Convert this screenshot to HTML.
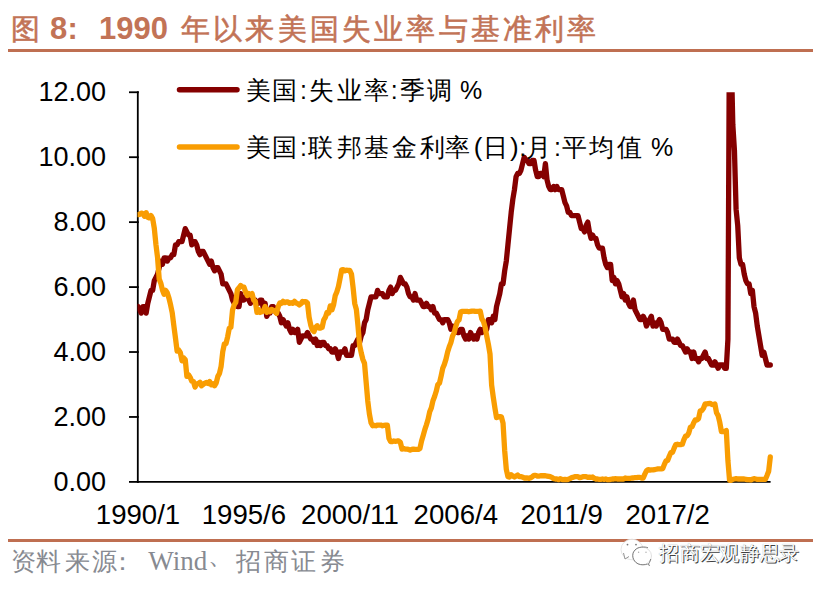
<!DOCTYPE html>
<html><head><meta charset="utf-8"><style>
html,body{margin:0;padding:0;background:#fff;}
body{width:825px;height:589px;position:relative;overflow:hidden;font-family:"Liberation Sans",sans-serif;}
.title{position:absolute;top:10px;font-size:30.5px;line-height:38px;font-weight:bold;color:#C27356;white-space:nowrap;}
.rule{position:absolute;left:8px;width:805px;height:3px;background:#BF6F51;}
.yl{position:absolute;left:0;width:106px;text-align:right;font-size:27px;line-height:40px;color:#000;}
.xl{position:absolute;top:494.5px;width:120px;text-align:center;font-size:27.6px;line-height:40px;color:#000;}
.g{position:absolute;width:100px;text-align:center;line-height:40px;color:#000;white-space:nowrap;}
.sw{font-family:"Liberation Serif",serif;font-size:27px;color:#878a91;}
svg{position:absolute;left:0;top:0;}
</style></head><body>
<div class="title" style="left:11px;font-size:29px;font-weight:normal;-webkit-text-stroke:0.55px #C27356">图</div>
<div class="title" style="left:50px;font-size:31px">8</div>
<div class="title" style="left:67.5px;font-size:31px">:</div>
<div class="title" style="left:99px;font-size:31px">1990</div>
<div class="title" style="left:181px;font-size:29px;letter-spacing:3.2px;font-weight:normal;-webkit-text-stroke:0.55px #C27356">年以来美国失业率与基准利率</div>
<div class="rule" style="top:49px"></div>
<div class="rule" style="top:539px"></div>
<div class="yl" style="top:461.9px">0.00</div><div class="yl" style="top:397.0px">2.00</div><div class="yl" style="top:332.0px">4.00</div><div class="yl" style="top:267.1px">6.00</div><div class="yl" style="top:202.1px">8.00</div><div class="yl" style="top:137.2px">10.00</div><div class="yl" style="top:72.3px">12.00</div>
<div class="xl" style="left:78.0px">1990/1</div><div class="xl" style="left:183.9px">1995/6</div><div class="xl" style="left:289.9px">2000/11</div><div class="xl" style="left:395.8px">2006/4</div><div class="xl" style="left:501.7px">2011/9</div><div class="xl" style="left:607.6px">2017/2</div>
<svg width="825" height="589" viewBox="0 0 825 589">
<defs><clipPath id="c"><rect x="137.5" y="92.2" width="700" height="500"/></clipPath></defs>
<g stroke="#000" stroke-width="1.8"><line x1="129" y1="481.90" x2="138.8" y2="481.90" /><line x1="129" y1="416.96" x2="138.8" y2="416.96" /><line x1="129" y1="352.02" x2="138.8" y2="352.02" /><line x1="129" y1="287.08" x2="138.8" y2="287.08" /><line x1="129" y1="222.14" x2="138.8" y2="222.14" /><line x1="129" y1="157.20" x2="138.8" y2="157.20" /><line x1="129" y1="92.26" x2="138.8" y2="92.26" />
<line x1="137.8" y1="91.3" x2="137.8" y2="482.8"/>
<line x1="137" y1="481.9" x2="770.6" y2="481.9"/>
</g>
<g clip-path="url(#c)" fill="none" stroke-linejoin="round" stroke-linecap="round">
<path d="M138.00,306.56 L139.63,309.81 L141.26,313.06 L142.89,306.56 L144.52,306.56 L146.15,313.06 L147.78,303.31 L149.41,296.82 L151.04,290.33 L152.67,290.33 L154.30,280.59 L155.93,277.34 L157.56,274.09 L159.19,267.60 L160.81,261.10 L162.44,264.35 L164.07,257.86 L165.70,257.86 L167.33,261.10 L168.96,257.86 L170.59,257.86 L172.22,254.61 L173.85,254.61 L175.48,244.87 L177.11,244.87 L178.74,241.62 L180.37,241.62 L182.00,241.62 L183.63,235.13 L185.26,228.63 L186.89,231.88 L188.52,235.13 L190.15,235.13 L191.78,244.87 L193.41,241.62 L195.04,241.62 L196.67,244.87 L198.30,251.36 L199.93,254.61 L201.56,251.36 L203.19,251.36 L204.82,254.61 L206.44,257.86 L208.07,261.10 L209.70,264.35 L211.33,261.10 L212.96,267.60 L214.59,270.84 L216.22,267.60 L217.85,267.60 L219.48,270.84 L221.11,274.09 L222.74,283.83 L224.37,283.83 L226.00,283.83 L227.63,287.08 L229.26,290.33 L230.89,293.57 L232.52,300.07 L234.15,303.31 L235.78,300.07 L237.41,306.56 L239.04,306.56 L240.67,293.57 L242.30,300.07 L243.93,300.07 L245.56,296.82 L247.19,296.82 L248.82,300.07 L250.45,303.31 L252.07,300.07 L253.70,300.07 L255.33,300.07 L256.96,303.31 L258.59,303.31 L260.22,300.07 L261.85,300.07 L263.48,309.81 L265.11,303.31 L266.74,316.30 L268.37,313.06 L270.00,313.06 L271.63,306.56 L273.26,306.56 L274.89,309.81 L276.52,313.06 L278.15,313.06 L279.78,316.30 L281.41,322.80 L283.04,319.55 L284.67,322.80 L286.30,326.04 L287.93,322.80 L289.56,329.29 L291.19,332.54 L292.82,329.29 L294.45,332.54 L296.07,332.54 L297.70,329.29 L299.33,342.28 L300.96,339.03 L302.59,335.78 L304.22,335.78 L305.85,335.78 L307.48,332.54 L309.11,335.78 L310.74,339.03 L312.37,339.03 L314.00,342.28 L315.63,339.03 L317.26,345.53 L318.89,342.28 L320.52,345.53 L322.15,342.28 L323.78,342.28 L325.41,345.53 L327.04,345.53 L328.67,348.77 L330.30,348.77 L331.93,352.02 L333.56,352.02 L335.19,348.77 L336.82,352.02 L338.45,358.51 L340.08,352.02 L341.70,352.02 L343.33,352.02 L344.96,348.77 L346.59,355.27 L348.22,355.27 L349.85,355.27 L351.48,355.27 L353.11,345.53 L354.74,345.53 L356.37,342.28 L358.00,339.03 L359.63,342.28 L361.26,335.78 L362.89,332.54 L364.52,322.80 L366.15,319.55 L367.78,309.81 L369.41,303.31 L371.04,296.82 L372.67,296.82 L374.30,296.82 L375.93,296.82 L377.56,290.33 L379.19,293.57 L380.82,293.57 L382.45,293.57 L384.08,296.82 L385.71,296.82 L387.33,296.82 L388.96,290.33 L390.59,287.08 L392.22,293.57 L393.85,290.33 L395.48,290.33 L397.11,287.08 L398.74,283.83 L400.37,277.34 L402.00,280.59 L403.63,283.83 L405.26,283.83 L406.89,287.08 L408.52,293.57 L410.15,296.82 L411.78,296.82 L413.41,300.07 L415.04,293.57 L416.67,300.07 L418.30,300.07 L419.93,300.07 L421.56,303.31 L423.19,306.56 L424.82,306.56 L426.45,303.31 L428.08,306.56 L429.71,306.56 L431.34,309.81 L432.96,306.56 L434.59,313.06 L436.22,313.06 L437.85,316.30 L439.48,319.55 L441.11,319.55 L442.74,322.80 L444.37,319.55 L446.00,319.55 L447.63,319.55 L449.26,322.80 L450.89,329.29 L452.52,326.04 L454.15,329.29 L455.78,329.29 L457.41,332.54 L459.04,332.54 L460.67,329.29 L462.30,329.29 L463.93,335.78 L465.56,339.03 L467.19,335.78 L468.82,339.03 L470.45,332.54 L472.08,335.78 L473.71,339.03 L475.34,335.78 L476.96,339.03 L478.59,332.54 L480.22,329.29 L481.85,332.54 L483.48,329.29 L485.11,329.29 L486.74,329.29 L488.37,319.55 L490.00,319.55 L491.63,322.80 L493.26,316.30 L494.89,319.55 L496.52,306.56 L498.15,300.07 L499.78,293.57 L501.41,283.83 L503.04,283.83 L504.67,270.84 L506.30,261.10 L507.93,244.87 L509.56,228.63 L511.19,212.40 L512.82,199.41 L514.45,189.67 L516.08,176.68 L517.71,173.44 L519.34,173.44 L520.97,170.19 L522.59,163.69 L524.22,157.20 L525.85,160.45 L527.48,160.45 L529.11,163.69 L530.74,163.69 L532.37,160.45 L534.00,160.45 L535.63,170.19 L537.26,176.68 L538.89,176.68 L540.52,173.44 L542.15,173.44 L543.78,176.68 L545.41,163.69 L547.04,179.93 L548.67,186.42 L550.30,189.67 L551.93,189.67 L553.56,186.42 L555.19,189.67 L556.82,186.42 L558.45,189.67 L560.08,189.67 L561.71,189.67 L563.34,196.16 L564.97,202.66 L566.60,205.90 L568.22,212.40 L569.85,212.40 L571.48,215.65 L573.11,215.65 L574.74,215.65 L576.37,215.65 L578.00,215.65 L579.63,222.14 L581.26,228.63 L582.89,228.63 L584.52,231.88 L586.15,225.39 L587.78,222.14 L589.41,231.88 L591.04,238.38 L592.67,235.13 L594.30,238.38 L595.93,238.38 L597.56,244.87 L599.19,248.12 L600.82,248.12 L602.45,248.12 L604.08,257.86 L605.71,264.35 L607.34,267.60 L608.97,264.35 L610.60,264.35 L612.22,280.59 L613.85,277.34 L615.48,283.83 L617.11,280.59 L618.74,283.83 L620.37,290.33 L622.00,296.82 L623.63,293.57 L625.26,300.07 L626.89,296.82 L628.52,303.31 L630.15,306.56 L631.78,306.56 L633.41,300.07 L635.04,309.81 L636.67,313.06 L638.30,316.30 L639.93,319.55 L641.56,319.55 L643.19,316.30 L644.82,319.55 L646.45,326.04 L648.08,322.80 L649.71,319.55 L651.34,316.30 L652.97,326.04 L654.60,322.80 L656.23,326.04 L657.85,322.80 L659.48,319.55 L661.11,322.80 L662.74,329.29 L664.37,329.29 L666.00,329.29 L667.63,332.54 L669.26,339.03 L670.89,339.03 L672.52,339.03 L674.15,342.28 L675.78,342.28 L677.41,339.03 L679.04,342.28 L680.67,345.53 L682.30,345.53 L683.93,348.77 L685.56,352.02 L687.19,348.77 L688.82,352.02 L690.45,352.02 L692.08,358.51 L693.71,352.02 L695.34,358.51 L696.97,358.51 L698.60,361.76 L700.23,358.51 L701.86,358.51 L703.48,355.27 L705.11,352.02 L706.74,358.51 L708.37,358.51 L710.00,361.76 L711.63,365.01 L713.26,365.01 L714.89,361.76 L716.52,365.01 L718.15,368.25 L719.78,365.01 L721.41,365.01 L723.04,365.01 L724.67,368.25 L726.30,368.25 L727.93,339.03 L729.56,4.59 L731.19,53.30 L732.82,124.73 L734.45,150.71 L736.08,209.15 L737.71,225.39 L739.34,257.86 L740.97,264.35 L742.60,264.35 L744.23,274.09 L745.86,280.59 L747.49,283.83 L749.11,283.83 L750.74,293.57 L752.37,290.33 L754.00,306.56 L755.63,313.06 L757.26,326.04 L758.89,335.78 L760.52,345.53 L762.15,355.27 L763.78,352.02 L765.41,358.51 L767.04,365.01 L768.67,365.01 L770.30,365.01" stroke="#850000" stroke-width="5.3"/>
<path d="M138.00,214.67 L139.63,214.35 L141.26,213.05 L142.89,213.70 L144.52,216.30 L146.15,212.72 L147.78,217.27 L149.41,217.92 L151.04,215.65 L152.67,218.57 L154.30,228.31 L155.93,244.54 L157.56,257.53 L159.19,278.96 L160.81,283.18 L162.44,290.00 L164.07,294.22 L165.70,290.33 L167.33,292.92 L168.96,298.12 L170.59,304.94 L172.22,312.73 L173.85,325.72 L175.48,338.06 L177.11,351.05 L178.74,350.07 L180.37,352.67 L182.00,360.79 L183.63,357.86 L185.26,359.81 L186.89,376.37 L188.52,374.75 L190.15,377.35 L191.78,381.24 L193.41,381.57 L195.04,387.09 L196.67,383.84 L198.30,383.52 L199.93,382.22 L201.56,385.79 L203.19,384.49 L204.82,383.19 L206.44,382.54 L208.07,383.52 L209.70,381.57 L211.33,384.81 L212.96,383.84 L214.59,385.79 L216.22,382.87 L217.85,376.37 L219.48,373.45 L221.11,366.31 L222.74,351.70 L224.37,343.90 L226.00,343.58 L227.63,336.76 L229.26,328.32 L230.89,327.34 L232.52,310.13 L234.15,304.94 L235.78,302.34 L237.41,289.68 L239.04,287.73 L240.67,285.46 L242.30,286.76 L243.93,287.08 L245.56,291.95 L247.19,295.52 L248.82,293.57 L250.45,294.87 L252.07,293.57 L253.70,300.07 L255.33,301.37 L256.96,312.41 L258.59,309.48 L260.22,312.41 L261.85,311.76 L263.48,310.78 L265.11,306.56 L266.74,312.41 L268.37,309.81 L270.00,311.76 L271.63,309.48 L273.26,310.13 L274.89,311.43 L276.52,313.38 L278.15,306.89 L279.78,302.99 L281.41,303.31 L283.04,301.37 L284.67,302.67 L286.30,302.02 L287.93,302.02 L289.56,303.31 L291.19,302.67 L292.82,303.31 L294.45,301.37 L296.07,302.99 L297.70,303.64 L299.33,304.94 L300.96,303.64 L302.59,301.37 L304.22,302.02 L305.85,301.69 L307.48,302.99 L309.11,317.28 L310.74,325.07 L312.37,329.94 L314.00,331.56 L315.63,327.34 L317.26,325.72 L318.89,327.99 L320.52,327.99 L322.15,327.34 L323.78,319.87 L325.41,317.28 L327.04,312.41 L328.67,313.06 L330.30,305.91 L331.93,309.81 L333.56,304.94 L335.19,295.85 L336.82,291.95 L338.45,286.43 L340.08,278.31 L341.70,269.87 L343.33,269.55 L344.96,270.84 L346.59,270.20 L348.22,270.52 L349.85,270.52 L351.48,274.09 L353.11,287.73 L354.74,303.64 L356.37,309.48 L358.00,326.04 L359.63,345.20 L361.26,352.99 L362.89,359.49 L364.52,363.38 L366.15,382.22 L367.78,401.05 L369.41,414.04 L371.04,422.80 L372.67,425.73 L374.30,425.40 L375.93,425.73 L377.56,425.08 L379.19,425.08 L380.82,425.08 L382.45,425.73 L384.08,425.40 L385.71,425.08 L387.33,425.08 L388.96,438.39 L390.59,441.64 L392.22,441.64 L393.85,440.99 L395.48,441.31 L397.11,440.99 L398.74,440.99 L400.37,442.29 L402.00,449.11 L403.63,448.46 L405.26,449.11 L406.89,449.11 L408.52,449.43 L410.15,450.08 L411.78,449.43 L413.41,449.11 L415.04,449.43 L416.67,449.43 L418.30,449.43 L419.93,448.46 L421.56,440.99 L423.19,435.47 L424.82,429.62 L426.45,424.75 L428.08,419.23 L429.71,411.76 L431.34,407.87 L432.96,400.72 L434.59,396.50 L436.22,391.31 L437.85,384.49 L439.48,383.19 L441.11,376.05 L442.74,368.25 L444.37,364.36 L446.00,359.16 L447.63,352.02 L449.26,346.82 L450.89,342.60 L452.52,336.11 L454.15,332.86 L455.78,326.37 L457.41,321.50 L459.04,319.87 L460.67,311.76 L462.30,311.43 L463.93,311.43 L465.56,311.43 L467.19,311.43 L468.82,311.76 L470.45,311.43 L472.08,311.11 L473.71,311.11 L475.34,311.43 L476.96,311.43 L478.59,311.43 L480.22,311.11 L481.85,318.90 L483.48,321.50 L485.11,327.34 L486.74,336.11 L488.37,344.23 L490.00,353.97 L491.63,385.14 L493.26,397.15 L494.89,407.87 L496.52,417.61 L498.15,416.96 L499.78,416.64 L501.41,416.96 L503.04,423.13 L504.67,450.40 L506.30,469.24 L507.93,476.70 L509.56,477.03 L511.19,474.76 L512.82,476.06 L514.45,477.03 L516.08,476.06 L517.71,475.08 L519.34,476.70 L520.97,476.70 L522.59,477.03 L524.22,478.00 L525.85,478.00 L527.48,478.00 L529.11,478.33 L530.74,477.68 L532.37,476.70 L534.00,475.41 L535.63,475.41 L537.26,476.06 L538.89,476.06 L540.52,475.73 L542.15,475.73 L543.78,475.73 L545.41,475.73 L547.04,476.06 L548.67,476.38 L550.30,476.70 L551.93,477.35 L553.56,478.65 L555.19,478.98 L556.82,478.98 L558.45,479.63 L560.08,478.65 L561.71,479.30 L563.34,479.63 L564.97,479.30 L566.60,479.63 L568.22,479.30 L569.85,478.65 L571.48,477.68 L573.11,477.35 L574.74,476.70 L576.37,476.70 L578.00,476.70 L579.63,477.68 L581.26,477.35 L582.89,476.70 L584.52,476.70 L586.15,476.70 L587.78,477.35 L589.41,477.03 L591.04,477.35 L592.67,477.03 L594.30,478.33 L595.93,478.98 L597.56,478.98 L599.19,479.30 L600.82,479.30 L602.45,478.98 L604.08,479.30 L605.71,478.98 L607.34,479.63 L608.97,479.63 L610.60,479.30 L612.22,478.98 L613.85,478.98 L615.48,478.65 L617.11,478.98 L618.74,478.98 L620.37,478.98 L622.00,478.98 L623.63,478.98 L625.26,478.00 L626.89,478.33 L628.52,478.33 L630.15,478.33 L631.78,478.00 L633.41,478.00 L635.04,477.68 L636.67,477.68 L638.30,477.35 L639.93,477.35 L641.56,478.00 L643.19,478.00 L644.82,474.11 L646.45,470.86 L648.08,469.56 L649.71,470.21 L651.34,469.89 L652.97,469.89 L654.60,469.56 L656.23,469.24 L657.85,468.91 L659.48,468.91 L661.11,468.91 L662.74,468.59 L664.37,464.37 L666.00,460.79 L667.63,460.47 L669.26,456.25 L670.89,452.68 L672.52,452.35 L674.15,448.13 L675.78,444.56 L677.41,444.23 L679.04,444.56 L680.67,444.56 L682.30,444.23 L683.93,439.69 L685.56,436.12 L687.19,435.79 L688.82,432.87 L690.45,427.03 L692.08,426.70 L693.71,422.80 L695.34,419.88 L696.97,419.88 L698.60,418.58 L700.23,410.79 L701.86,410.47 L703.48,408.19 L705.11,403.97 L706.74,403.97 L708.37,403.65 L710.00,403.32 L711.63,404.30 L713.26,404.62 L714.89,403.97 L716.52,412.74 L718.15,415.66 L719.78,422.48 L721.41,431.57 L723.04,431.57 L724.67,431.57 L726.30,430.60 L727.93,460.79 L729.56,480.28 L731.19,480.28 L732.82,479.30 L734.45,478.98 L736.08,478.65 L737.71,478.98 L739.34,478.98 L740.97,478.98 L742.60,478.98 L744.23,478.98 L745.86,479.30 L747.49,479.63 L749.11,479.63 L750.74,479.95 L752.37,479.30 L754.00,478.65 L755.63,478.98 L757.26,479.30 L758.89,479.30 L760.52,479.30 L762.15,479.30 L763.78,479.30 L765.41,479.30 L767.04,475.41 L768.67,471.18 L770.30,456.90" stroke="#F99D02" stroke-width="5.3"/>
</g>
<line x1="179.5" y1="89.7" x2="237" y2="89.7" stroke="#850000" stroke-width="5.5" stroke-linecap="round"/>
<line x1="179.5" y1="147.1" x2="237" y2="147.1" stroke="#F99D02" stroke-width="5.5" stroke-linecap="round"/>
<g stroke-width="0.9">
<ellipse cx="632" cy="549.5" rx="11" ry="10.3" fill="#fff" stroke="#e2e2e2"/>
<path d="M623.5,553 L625,559 L629,556.5" fill="#fff" stroke="#888"/>
<circle cx="627.5" cy="544.6" r="0.9" fill="#777"/><circle cx="636" cy="544.6" r="0.9" fill="#777"/>
<ellipse cx="642" cy="556" rx="9.5" ry="8.8" fill="#fff" stroke="#ddd"/>
<path d="M648,547.8 C645,546.5 638,546.5 635,550 C631,554 632.5,561 638,563.8 C641,565.2 645,565 647.5,564" fill="none" stroke="#707070"/>
<path d="M650.8,559 L649.5,562.5 L648,564.5 L650,565.5" fill="none" stroke="#707070"/>
<circle cx="638.6" cy="552.3" r="0.7" fill="#aaa"/><circle cx="646" cy="552.3" r="0.7" fill="#aaa"/>
</g>
</svg>
<span class="g" style="left:208.5px;top:70.2px;font-size:25px;">美</span><span class="g" style="left:234.9px;top:70.2px;font-size:25px;">国</span><span class="g" style="left:253.4px;top:70.2px;font-size:25px;">:</span><span class="g" style="left:271.0px;top:70.2px;font-size:25px;">失</span><span class="g" style="left:299.8px;top:70.2px;font-size:25px;">业</span><span class="g" style="left:326.5px;top:70.2px;font-size:25px;">率</span><span class="g" style="left:344.3px;top:70.2px;font-size:25px;">:</span><span class="g" style="left:362.0px;top:70.2px;font-size:25px;">季</span><span class="g" style="left:389.2px;top:70.2px;font-size:25px;">调</span><span class="g" style="left:421.0px;top:70.2px;font-size:25px;">%</span><span class="g" style="left:208.5px;top:127.4px;font-size:25px;">美</span><span class="g" style="left:234.9px;top:127.4px;font-size:25px;">国</span><span class="g" style="left:253.4px;top:127.4px;font-size:25px;">:</span><span class="g" style="left:270.8px;top:127.4px;font-size:25px;">联</span><span class="g" style="left:299.0px;top:127.4px;font-size:25px;">邦</span><span class="g" style="left:326.7px;top:127.4px;font-size:25px;">基</span><span class="g" style="left:354.2px;top:127.4px;font-size:25px;">金</span><span class="g" style="left:382.2px;top:127.4px;font-size:25px;">利</span><span class="g" style="left:407.8px;top:127.4px;font-size:25px;">率</span><span class="g" style="left:428.0px;top:126.6px;font-size:26px;">(</span><span class="g" style="left:445.0px;top:127.4px;font-size:25px;">日</span><span class="g" style="left:464.3px;top:126.6px;font-size:26px;">)</span><span class="g" style="left:472.7px;top:127.4px;font-size:25px;">:</span><span class="g" style="left:488.3px;top:127.4px;font-size:25px;">月</span><span class="g" style="left:507.5px;top:127.4px;font-size:25px;">:</span><span class="g" style="left:524.7px;top:127.4px;font-size:25px;">平</span><span class="g" style="left:551.0px;top:127.4px;font-size:25px;">均</span><span class="g" style="left:579.5px;top:127.4px;font-size:25px;">值</span><span class="g" style="left:612.2px;top:127.4px;font-size:25px;">%</span>
<span class="g" style="left:-27.0px;top:541.0px;font-size:25px;color:#878a91">资</span><span class="g" style="left:-2.0px;top:541.0px;font-size:25px;color:#878a91">料</span><span class="g" style="left:27.5px;top:541.0px;font-size:25px;color:#878a91">来</span><span class="g" style="left:54.8px;top:541.0px;font-size:25px;color:#878a91">源</span><span class="g" style="left:72.8px;top:541.0px;font-size:25px;color:#878a91">：</span><span class="g" style="left:198.0px;top:541.0px;font-size:25px;color:#878a91">招</span><span class="g" style="left:226.0px;top:541.0px;font-size:25px;color:#878a91">商</span><span class="g" style="left:253.7px;top:541.0px;font-size:25px;color:#878a91">证</span><span class="g" style="left:282.0px;top:541.0px;font-size:25px;color:#878a91">券</span><span class="g sw" style="left:127.8px;top:541px;">Wind</span><span class="g" style="left:170.8px;top:535.0px;font-size:25px;color:#878a91">、</span>
<span class="g" style="left:619.0px;top:533.0px;font-size:20px;color:#fff;text-shadow:1px 1px 0 #404040,0 0 0.8px #999">招</span><span class="g" style="left:639.8px;top:533.0px;font-size:20px;color:#fff;text-shadow:1px 1px 0 #404040,0 0 0.8px #999">商</span><span class="g" style="left:660.0px;top:533.0px;font-size:20px;color:#fff;text-shadow:1px 1px 0 #404040,0 0 0.8px #999">宏</span><span class="g" style="left:679.0px;top:533.0px;font-size:20px;color:#fff;text-shadow:1px 1px 0 #404040,0 0 0.8px #999">观</span><span class="g" style="left:700.0px;top:533.0px;font-size:20px;color:#fff;text-shadow:1px 1px 0 #404040,0 0 0.8px #999">静</span><span class="g" style="left:719.8px;top:533.0px;font-size:20px;color:#fff;text-shadow:1px 1px 0 #404040,0 0 0.8px #999">思</span><span class="g" style="left:738.7px;top:533.0px;font-size:20px;color:#fff;text-shadow:1px 1px 0 #404040,0 0 0.8px #999">录</span>
</body></html>
